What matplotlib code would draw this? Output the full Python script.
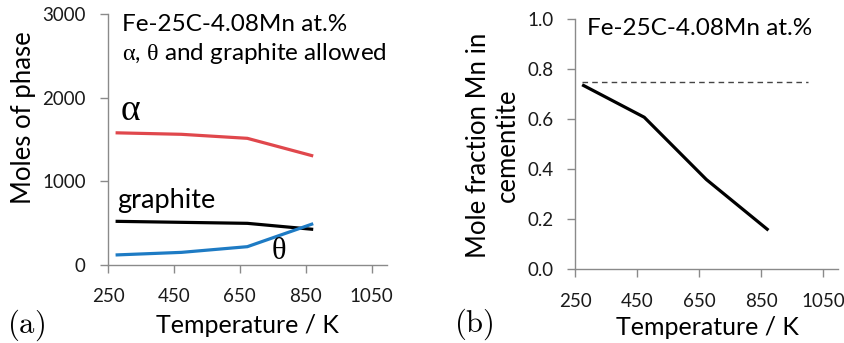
import matplotlib
matplotlib.use("Agg")
import matplotlib.pyplot as plt

plt.rcParams["font.family"] = ["Lato", "DejaVu Sans"]
plt.rcParams["mathtext.fontset"] = "custom"
plt.rcParams["mathtext.rm"] = "Liberation Serif"
plt.rcParams["mathtext.it"] = "Liberation Serif"

# Fe-25C-4.08Mn at.% equilibrium, temperatures in K
temps = [273, 473, 673, 873]
alpha_moles = [1580, 1562, 1514, 1303]
graphite_moles = [522, 510, 498, 426]
theta_moles = [120, 151, 219, 494]
mn_in_cementite = [0.737, 0.607, 0.358, 0.155]
mn_limit = 0.75
mn_limit_range = [273, 1000]

x_ticks = [250, 450, 650, 850, 1050]
moles_ticks = [0, 1000, 2000, 3000]
frac_ticks = [0.0, 0.2, 0.4, 0.6, 0.8, 1.0]

RED = "#E0474C"
BLUE = "#1E7BC4"
GREY = "#8A8A8A"

W, H = 845, 343
fig = plt.figure(figsize=(W / 100, H / 100), dpi=100)


def px_axes(left, top, right, bottom):
    return fig.add_axes([left / W, 1 - bottom / H, (right - left) / W, (bottom - top) / H])


def style(ax, ypad, xpad):
    for s in ("top", "right"):
        ax.spines[s].set_visible(False)
    for s in ("left", "bottom"):
        ax.spines[s].set_color(GREY)
        ax.spines[s].set_linewidth(1.0)
    ax.tick_params(axis="both", direction="out", length=6, width=1.0,
                   color=GREY, labelsize=13.5, labelcolor="#1a1a1a")
    ax.tick_params(axis="y", pad=ypad)
    ax.tick_params(axis="x", pad=xpad)
    ax.set_xlim(250, 1097)
    ax.set_xticks(x_ticks)


# (a) moles of each phase
ax1 = px_axes(108, 14, 387, 265)
ax1.plot(temps, alpha_moles, color=RED, lw=2.3, solid_capstyle="butt")
ax1.plot(temps, graphite_moles, color="black", lw=2.3, solid_capstyle="butt")
ax1.plot(temps, theta_moles, color=BLUE, lw=2.3, solid_capstyle="butt")
ax1.set_ylim(0, 3000)
ax1.set_yticks(moles_ticks)
style(ax1, ypad=10, xpad=10.5)

ax1.text(294, 2800, "Fe-25C-4.08Mn at.%", fontsize=17.5, va="baseline")
ax1.text(294, 2450, r"$\alpha$, $\theta$ and graphite allowed",
         fontsize=17.5, va="baseline")
ax1.text(317, 1733, r"$\alpha$", fontsize=27, va="baseline", ha="center")
ax1.text(277, 681, "graphite", fontsize=19.5, va="baseline")
ax1.text(767, 72, r"$\theta$", fontsize=22, va="baseline", ha="center")

# (b) Mn content of cementite
ax2 = px_axes(575, 19, 838, 269)
ax2.plot(temps, mn_in_cementite, color="black", lw=2.3, solid_capstyle="butt")
ax2.plot(mn_limit_range, [mn_limit, mn_limit], color="#444444", lw=1.0,
         dashes=(4, 3))
ax2.set_ylim(0, 1.0)
ax2.set_yticks(frac_ticks)
ax2.set_yticklabels([f"{v:.1f}" for v in frac_ticks])
style(ax2, ypad=9.5, xpad=11)

ax2.text(289, 0.937, "Fe-25C-4.08Mn at.%", fontsize=17.5, va="baseline")

# axis titles and panel letters
fig.text(247 / W, 1 - 333 / H, "Temperature / K", fontsize=18,
         ha="center", va="baseline")
fig.text(707 / W, 1 - 335 / H, "Temperature / K", fontsize=18,
         ha="center", va="baseline")
fig.text(24 / W, 1 - 118 / H, "Moles of phase", fontsize=18.5,
         ha="center", va="center", rotation=90)
fig.text(493 / W, 1 - 145 / H, "Mole fraction Mn in\ncementite", fontsize=18.5,
         ha="center", va="center", rotation=90, multialignment="center",
         linespacing=1.15)
fig.text(26 / W, 1 - 333 / H, r"$\mathrm{(a)}$", fontsize=22, ha="center",
         va="baseline", math_fontfamily="cm")
fig.text(474 / W, 1 - 332 / H, r"$\mathrm{(b)}$", fontsize=22, ha="center",
         va="baseline", math_fontfamily="cm")

fig.savefig("out.png", dpi=100)
